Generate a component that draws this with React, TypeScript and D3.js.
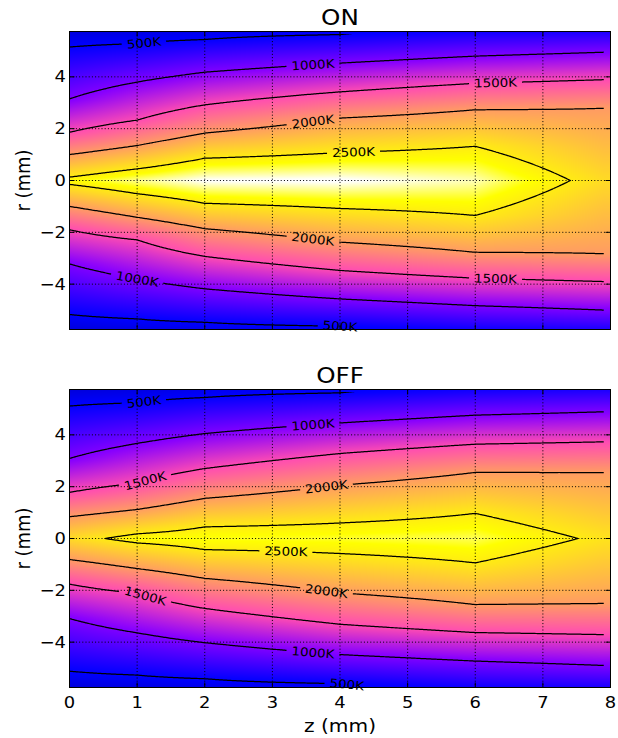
import React, { useMemo } from 'react';
import * as d3 from 'd3';

const W = 618;
const H = 738;

// z columns (mm) where radial temperature profiles are known
const zGrid = [0, 1, 2, 4, 6, 7.9];
// isotherm levels (K)
const levels = [500, 1000, 1500, 2000, 2500];
const zTicks = [0, 1, 2, 3, 4, 5, 6, 7, 8];
const rTicks = [-4, -2, 0, 2, 4];

// ON case: centreline and outer temperatures (K) per z column
const onCentreT = [2600, 2760, 2880, 2890, 2800, 2395];
const onEdgeT = [280, 300, 330, 380, 420, 440];
// isotherm radii (mm); rows follow `levels`, columns follow `zGrid`
const onUpperR: (number | null)[][] = [
  [5.15, 5.28, 5.44, 5.63, 5.85, 5.95],
  [3.15, 3.8, 4.18, 4.53, 4.8, 4.95],
  [1.86, 2.33, 2.92, 3.42, 3.75, 3.89],
  [1.0, 1.35, 1.83, 2.41, 2.73, 2.79],
  [0.13, 0.45, 0.86, 1.08, 1.32, null],
];
const onLowerR: (number | null)[][] = [
  [5.17, 5.34, 5.47, 5.62, 5.85, 5.95],
  [3.22, 3.8, 4.18, 4.57, 4.83, 5.0],
  [1.9, 2.29, 2.93, 3.47, 3.77, 3.9],
  [1.0, 1.42, 1.86, 2.38, 2.77, 2.83],
  [0.15, 0.51, 0.88, 1.08, 1.35, null],
];

// OFF case
const offCentreT = [2390, 2600, 2640, 2660, 2700, 2450];
const offEdgeT = [280, 300, 330, 380, 420, 440];
const offUpperR: (number | null)[][] = [
  [5.11, 5.24, 5.44, 5.62, 5.85, 5.95],
  [3.09, 3.67, 4.05, 4.46, 4.76, 4.89],
  [1.78, 2.14, 2.7, 3.28, 3.64, 3.73],
  [0.84, 1.12, 1.55, 2.06, 2.55, 2.55],
  [null, 0.18, 0.45, 0.6, 0.97, null],
];
const offLowerR: (number | null)[][] = [
  [5.12, 5.27, 5.41, 5.6, 5.85, 5.95],
  [3.09, 3.64, 4.02, 4.48, 4.73, 4.9],
  [1.76, 2.12, 2.7, 3.31, 3.63, 3.71],
  [0.81, 1.16, 1.54, 2.1, 2.55, 2.51],
  [null, 0.17, 0.43, 0.58, 0.94, null],
];

// z positions (mm) of inline isotherm labels, per level; null = no label
const onLabelUp = [1.1, 3.6, 6.3, 3.6, 4.2];
const onLabelDown = [4.0, 1.0, 6.3, 3.6, null];
const offLabelUp = [1.1, 3.6, 1.12, 3.8, null];
const offLabelDown = [4.1, 3.6, 1.12, 3.8, 3.2];

const colourDomain = [-300, 2870];

// layout
const X0 = 69.5;
const X1 = 610.5;
const PH = 298;
const R_AX = 5.75;
const R_DATA = 5.65;
const R_OUT = 6.3;
const FONT = 'DejaVu Sans';
const SX = 1.12;

type Knots = [number, number][];

function buildKnots(centre: number[], edge: number[], radii: (number | null)[][]): Knots[] {
  return zGrid.map((_, i) => {
    const ks: Knots = [[0, centre[i]]];
    for (let k = levels.length - 1; k >= 0; k--) {
      const v = radii[k][i];
      if (v != null) ks.push([v, levels[k]]);
    }
    ks.push([R_OUT, edge[i]]);
    return ks;
  });
}

function evalKnots(ks: Knots, a: number): number {
  if (a >= ks[ks.length - 1][0]) return ks[ks.length - 1][1];
  for (let k = 1; k < ks.length; k++) {
    if (a <= ks[k][0]) {
      const [r0, t0] = ks[k - 1];
      const [r1, t1] = ks[k];
      return t0 + ((t1 - t0) * (a - r0)) / (r1 - r0);
    }
  }
  return ks[ks.length - 1][1];
}

function makeField(centre: number[], edge: number[], upper: (number | null)[][], lower: (number | null)[][]) {
  const up = buildKnots(centre, edge, upper);
  const dn = buildKnots(centre, edge, lower);
  const zLo = zGrid[0];
  const zHi = zGrid[zGrid.length - 1];
  return (z: number, r: number) => {
    const zc = Math.max(zLo, Math.min(zHi, z));
    let i = 0;
    while (i < zGrid.length - 2 && zc > zGrid[i + 1]) i++;
    const t = (zc - zGrid[i]) / (zGrid[i + 1] - zGrid[i]);
    const ks = r >= 0 ? up : dn;
    const a = Math.abs(r);
    return evalKnots(ks[i], a) * (1 - t) + evalKnots(ks[i + 1], a) * t;
  };
}

const clamp01 = (v: number) => Math.max(0, Math.min(1, v));
function gnuplot2(x: number): [number, number, number] {
  const v = clamp01(x);
  const r = clamp01(v / 0.32 - 0.78125);
  const g = clamp01(2 * v - 0.84);
  const b = clamp01(v < 0.25 ? 4 * v : v < 0.92 ? -2 * v + 1.84 : v / 0.08 - 11.5);
  return [r * 255, g * 255, b * 255];
}

interface PanelSpec {
  title: string;
  top: number;
  centre: number[];
  edge: number[];
  upper: (number | null)[][];
  lower: (number | null)[][];
  labelUp: (number | null)[];
  labelDown: (number | null)[];
  showX: boolean;
}

const GZ0 = -0.3;
const GZ1 = 8.2;
const GD = 0.02;

function Panel({ spec }: { spec: PanelSpec }) {
  const { top } = spec;
  const xs = d3.scaleLinear().domain([0, 8]).range([X0, X1]);
  const ys = d3.scaleLinear().domain([-R_AX, R_AX]).range([top + PH, top]);
  const cscale = d3.scaleLinear().domain(colourDomain).range([0, 1]).clamp(true);

  const computed = useMemo(() => {
    const f = makeField(spec.centre, spec.edge, spec.upper, spec.lower);

    // heat map raster
    const pw = Math.round(X1 - X0);
    const ph = PH;
    const canvas = document.createElement('canvas');
    canvas.width = pw;
    canvas.height = ph;
    const ctx = canvas.getContext('2d')!;
    const img = ctx.createImageData(pw, ph);
    for (let py = 0; py < ph; py++) {
      const r = ys.invert(top + py + 0.5);
      for (let px = 0; px < pw; px++) {
        const z = xs.invert(X0 + px + 0.5);
        const [cr, cg, cb] = gnuplot2(cscale(f(z, r)));
        const o = (py * pw + px) * 4;
        img.data[o] = cr;
        img.data[o + 1] = cg;
        img.data[o + 2] = cb;
        img.data[o + 3] = 255;
      }
    }
    ctx.putImageData(img, 0, 0);
    const href = canvas.toDataURL();

    // isotherms
    const nx = Math.round((GZ1 - GZ0) / GD) + 1;
    const ny = Math.round((2 * R_OUT) / GD) + 1;
    const vals = new Array(nx * ny);
    for (let j = 0; j < ny; j++) {
      const r = R_OUT - j * GD;
      for (let i = 0; i < nx; i++) vals[i + j * nx] = f(GZ0 + i * GD, r);
    }
    const cs = d3.contours().size([nx, ny]).thresholds(levels)(vals);
    const toPx = (c: number[]) => {
      const z = GZ0 + (c[0] - 0.5) * GD;
      const r = R_OUT - (c[1] - 0.5) * GD;
      return `${xs(z).toFixed(2)},${ys(r).toFixed(2)}`;
    };
    const paths = cs.map((mp) =>
      mp.coordinates
        .map((poly) => poly.map((ring) => 'M' + ring.map(toPx).join('L') + 'Z').join(''))
        .join('')
    );

    // inline labels
    const radiusAt = (z: number, level: number, s: number) => {
      if (f(z, 0) < level) return null;
      let lo = 0;
      let hi = R_OUT;
      for (let it = 0; it < 40; it++) {
        const mid = (lo + hi) / 2;
        if (f(z, s * mid) >= level) lo = mid;
        else hi = mid;
      }
      return (s * (lo + hi)) / 2;
    };
    const labels: { x: number; y: number; angle: number; text: string; w: number }[] = [];
    const addLabels = (zs: (number | null)[], s: number) => {
      zs.forEach((z, k) => {
        if (z == null) return;
        const level = levels[k];
        const r = radiusAt(z, level, s);
        const ra = radiusAt(z - 0.12, level, s);
        const rb = radiusAt(z + 0.12, level, s);
        if (r == null || ra == null || rb == null) return;
        const dx = xs(z + 0.12) - xs(z - 0.12);
        const dy = ys(rb) - ys(ra);
        const text = `${level}K`;
        const w = (0.636 * (text.length - 1) + 0.656) * 12 * SX;
        labels.push({ x: xs(z), y: ys(r), angle: (Math.atan2(dy, dx) * 180) / Math.PI, text, w });
      });
    };
    addLabels(spec.labelUp, 1);
    addLabels(spec.labelDown, -1);
    return { href, paths, labels };
  }, [spec]);

  const id = spec.title.toLowerCase();
  const yTop = top;
  const yBot = top + PH;

  return (
    <g>
      <defs>
        <clipPath id={`clip-${id}`}>
          <rect x={xs(0)} y={ys(R_DATA)} width={xs(zGrid[zGrid.length - 1]) - xs(0)} height={ys(-R_DATA) - ys(R_DATA)} />
        </clipPath>
        <mask id={`mask-${id}`} maskUnits="userSpaceOnUse" x={0} y={0} width={W} height={H}>
          <rect x={0} y={0} width={W} height={H} fill="white" />
          {computed.labels.map((l, i) => (
            <rect
              key={i}
              x={-(l.w + 10) / 2}
              y={-7}
              width={l.w + 10}
              height={14}
              fill="black"
              transform={`translate(${l.x},${l.y}) rotate(${l.angle})`}
            />
          ))}
        </mask>
      </defs>
      <image href={computed.href} x={X0} y={yTop} width={X1 - X0} height={PH} preserveAspectRatio="none" />
      {/* dotted grid */}
      <g stroke="#000" strokeWidth={1} strokeDasharray="1,2.2">
        {zTicks.slice(1, -1).map((t) => (
          <line key={`gz${t}`} x1={xs(t)} x2={xs(t)} y1={yTop} y2={yBot} />
        ))}
        {rTicks.map((t) => (
          <line key={`gr${t}`} x1={X0} x2={X1} y1={ys(t)} y2={ys(t)} />
        ))}
      </g>
      <g clipPath={`url(#clip-${id})`}>
        <g mask={`url(#mask-${id})`} fill="none" stroke="#000" strokeWidth={1.25} strokeLinejoin="round">
          {computed.paths.map((d, i) => (
            <path key={i} d={d} />
          ))}
        </g>
      </g>
      {computed.labels.map((l, i) => (
        <text
          key={i}
          transform={`translate(${l.x},${l.y}) rotate(${l.angle}) scale(${SX},1)`}
          textAnchor="middle"
          dominantBaseline="central"
          fontFamily={FONT}
          fontSize={12}
          fill="#000"
        >
          {l.text}
        </text>
      ))}
      {/* ticks, inward on all sides */}
      <g stroke="#000" strokeWidth={1}>
        {zTicks.map((t) => (
          <g key={`tz${t}`}>
            <line x1={xs(t)} x2={xs(t)} y1={yBot} y2={yBot - 5} />
            <line x1={xs(t)} x2={xs(t)} y1={yTop} y2={yTop + 5} />
          </g>
        ))}
        {rTicks.map((t) => (
          <g key={`tr${t}`}>
            <line x1={X0} x2={X0 + 5} y1={ys(t)} y2={ys(t)} />
            <line x1={X1} x2={X1 - 5} y1={ys(t)} y2={ys(t)} />
          </g>
        ))}
      </g>
      <rect x={X0} y={yTop} width={X1 - X0} height={PH} fill="none" stroke="#000" strokeWidth={1} />
      {rTicks.map((t) => (
        <text
          key={`lr${t}`}
          transform={`translate(66,${ys(t)}) scale(${SX},1)`}
          textAnchor="end"
          dominantBaseline="central"
          fontFamily={FONT}
          fontSize={16}
        >
          {t < 0 ? `\u2212${Math.abs(t)}` : `${t}`}
        </text>
      ))}
      {spec.showX &&
        zTicks.map((t) => (
          <text
            key={`lz${t}`}
            transform={`translate(${xs(t)},${yBot + 20}) scale(${SX},1)`}
            textAnchor="middle"
            fontFamily={FONT}
            fontSize={16}
          >
            {t}
          </text>
        ))}
      <text
        transform={`translate(${(X0 + X1) / 2},${yTop - 6.5}) scale(${SX},1)`}
        textAnchor="middle"
        fontFamily={FONT}
        fontSize={22}
      >
        {spec.title}
      </text>
      <text
        transform={`translate(23,${(yTop + yBot) / 2}) rotate(-90) scale(1,${SX})`}
        textAnchor="middle"
        dominantBaseline="central"
        fontFamily={FONT}
        fontSize={18}
      >
        r (mm)
      </text>
    </g>
  );
}

const panels: PanelSpec[] = [
  {
    title: 'ON',
    top: 31.5,
    centre: onCentreT,
    edge: onEdgeT,
    upper: onUpperR,
    lower: onLowerR,
    labelUp: onLabelUp,
    labelDown: onLabelDown,
    showX: false,
  },
  {
    title: 'OFF',
    top: 389.5,
    centre: offCentreT,
    edge: offEdgeT,
    upper: offUpperR,
    lower: offLowerR,
    labelUp: offLabelUp,
    labelDown: offLabelDown,
    showX: true,
  },
];

export default function App() {
  return (
    <svg
      width={W}
      height={H}
      viewBox={`0 0 ${W} ${H}`}
      style={{ position: 'absolute', left: 0, top: 0, background: '#fff' }}
    >
      <rect x={0} y={0} width={W} height={H} fill="#fff" />
      {panels.map((p) => (
        <Panel key={p.title} spec={p} />
      ))}
      <text
        transform={`translate(${(X0 + X1) / 2},732) scale(${SX},1)`}
        textAnchor="middle"
        fontFamily={FONT}
        fontSize={18}
      >
        z (mm)
      </text>
    </svg>
  );
}
